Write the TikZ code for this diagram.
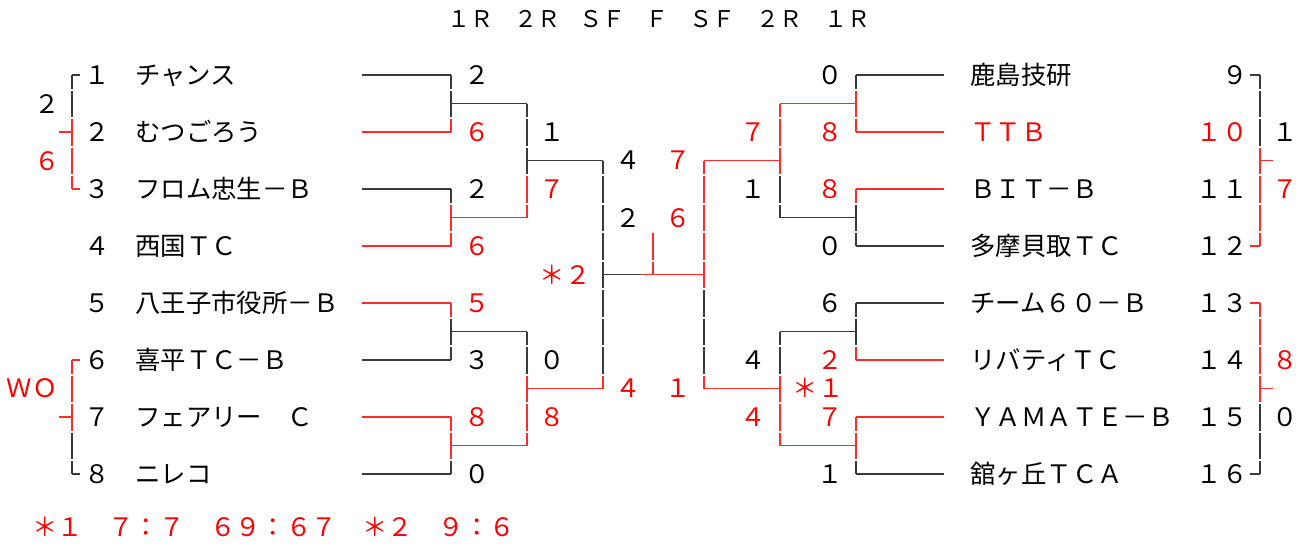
\documentclass[tikz,border=0pt]{standalone}
\usepackage{fontspec}
\usepackage{tikz}
\newfontfamily\jpfont{Noto Sans CJK JP}
\definecolor{tred}{HTML}{FF0000}
\definecolor{tline}{HTML}{3A3A3A}
\definecolor{tredline}{HTML}{FF2A2A}
\tikzset{
  lose/.style={draw=tline, line width=0.6pt},
  win/.style={draw=tredline, line width=0.6pt},
  cellc/.style={dash pattern=on 13.25pt off 1pt, dash phase=6.5pt},
  cellb/.style={dash pattern=on 13.25pt off 1pt, dash phase=13.75pt},
  lbl/.style={font=\jpfont\fontsize{12.7}{14}\selectfont, inner sep=0pt,
              text height=11.2pt, text depth=1.5pt},
  head/.style={lbl, font=\jpfont\fontsize{11.5}{13}\selectfont},
  team/.style={lbl, anchor=west},
  teamr/.style={team, text=tred},
  sc/.style={lbl},
  scr/.style={lbl, text=tred},
}

\begin{document}
\begin{tikzpicture}[x=0.5pt, y=-0.5pt]
  \useasboundingbox (0,0) rectangle (1303,546);

  % Runden oben
  \node[head] (h1) at (470,18) {１Ｒ};
  \node[head] (h2) at (537,18) {２Ｒ};
  \node[head] (h3) at (602,18) {ＳＦ};
  \node[head] (h4) at (657,18) {Ｆ};
  \node[head] (h5) at (712,18) {ＳＦ};
  \node[head] (h6) at (779,18) {２Ｒ};
  \node[head] (h7) at (847,18) {１Ｒ};

  % linke Teams
  \node[sc] (n1) at (97,75) {１};   \node[team] (t1) at (135,75) {チャンス};
  \node[sc] (n2) at (97,132) {２};  \node[team] (t2) at (135,132) {むつごろう};
  \node[sc] (n3) at (97,189) {３};  \node[team] (t3) at (135,189) {フロム忠生－Ｂ};
  \node[sc] (n4) at (97,246) {４};  \node[team] (t4) at (135,246) {西国ＴＣ};
  \node[sc] (n5) at (97,303) {５};  \node[team] (t5) at (135,303) {八王子市役所－Ｂ};
  \node[sc] (n6) at (97,360) {６};  \node[team] (t6) at (135,360) {喜平ＴＣ－Ｂ};
  \node[sc] (n7) at (97,417) {７};  \node[team] (t7) at (135,417) {フェアリー　Ｃ};
  \node[sc] (n8) at (97,474) {８};  \node[team] (t8) at (135,474) {ニレコ};

  % rechte Teams
  \node[team] (t9) at (970,75) {鹿島技研};        \node[lbl, anchor=east] (n9) at (1248,75) {９};
  \node[teamr] (t10) at (970,132) {ＴＴＢ};        \node[scr, anchor=east] (n10) at (1248,132) {１０};
  \node[team] (t11) at (970,189) {ＢＩＴ－Ｂ};     \node[lbl, anchor=east] (n11) at (1248,189) {１１};
  \node[team] (t12) at (970,246) {多摩貝取ＴＣ};    \node[lbl, anchor=east] (n12) at (1248,246) {１２};
  \node[team] (t13) at (970,303) {チーム６０－Ｂ};  \node[lbl, anchor=east] (n13) at (1248,303) {１３};
  \node[team] (t14) at (970,360) {リバティＴＣ};    \node[lbl, anchor=east] (n14) at (1248,360) {１４};
  \node[team] (t15) at (970,417) {ＹＡＭＡＴＥ－Ｂ}; \node[lbl, anchor=east] (n15) at (1248,417) {１５};
  \node[team] (t16) at (970,474) {舘ヶ丘ＴＣＡ};    \node[lbl, anchor=east] (n16) at (1248,474) {１６};

  % Vorrunde links
  \draw[lose] (80,75) -- (72,75);
  \draw[lose, cellc] (72,75) -- (72,118);
  \draw[win, cellb] (72,118) -- (72,189);
  \draw[win] (72,189) -- (80,189);
  \draw[win] (59,132) -- (72,132);
  \node[sc] (p1) at (47,104) {２};
  \node[scr] (p2) at (47,161) {６};
  \draw[win] (80,360) -- (72,360);
  \draw[win, cellc] (72,360) -- (72,431.5);
  \draw[lose, cellb] (72,431.5) -- (72,474);
  \draw[lose] (72,474) -- (80,474);
  \draw[win] (59,417) -- (72,417);
  \node[scr] (wo) at (32,388) {ＷＯ};

  % Vorrunde rechts
  \draw[lose] (1250,75) -- (1260,75);
  \draw[lose, cellc] (1260,75) -- (1260,146.5);
  \draw[win, cellb] (1260,146.5) -- (1260,246);
  \draw[win] (1260,246) -- (1250,246);
  \draw[win] (1260,160.5) -- (1273,160.5);
  \node[sc] (q1) at (1285,132) {１};
  \node[scr] (q2) at (1285,189) {７};
  \draw[win] (1250,303) -- (1260,303);
  \draw[win, cellc] (1260,303) -- (1260,403);
  \draw[lose, cellb] (1260,403) -- (1260,474);
  \draw[lose] (1260,474) -- (1250,474);
  \draw[win] (1260,388.5) -- (1273,388.5);
  \node[scr] (q3) at (1285,360) {８};
  \node[sc] (q4) at (1285,417) {０};

  % 1R links
  \draw[lose] (362,75) -- (451,75);
  \draw[win] (362,132) -- (451,132);
  \draw[lose] (362,189) -- (451,189);
  \draw[win] (362,246) -- (451,246);
  \draw[win] (362,303) -- (451,303);
  \draw[lose] (362,360) -- (451,360);
  \draw[win] (362,417) -- (451,417);
  \draw[lose] (362,474) -- (451,474);
  \draw[lose, cellc] (451,75) -- (451,118);
  \draw[win, cellb] (451,118) -- (451,132);
  \draw[lose, cellc] (451,189) -- (451,203.5);
  \draw[win, cellb] (451,203.5) -- (451,246);
  \draw[win, cellc] (451,303) -- (451,317.5);
  \draw[lose, cellb] (451,317.5) -- (451,360);
  \draw[win, cellc] (451,417) -- (451,460);
  \draw[lose, cellb] (451,460) -- (451,474);
  \node[sc] (a1) at (477,75) {２};
  \node[scr] (a2) at (477,132) {６};
  \node[sc] (a3) at (477,189) {２};
  \node[scr] (a4) at (477,246) {６};
  \node[scr] (a5) at (477,303) {５};
  \node[sc] (a6) at (477,360) {３};
  \node[scr] (a7) at (477,417) {８};
  \node[sc] (a8) at (477,474) {０};

  % 2R links
  \draw[lose] (451,103.5) -- (527,103.5);
  \draw[win] (451,217.5) -- (527,217.5);
  \draw[lose] (451,331.5) -- (527,331.5);
  \draw[win] (451,445.5) -- (527,445.5);
  \draw[lose, cellc] (527,103.5) -- (527,175);
  \draw[win, cellb] (527,175) -- (527,217.5);
  \draw[lose, cellc] (527,331.5) -- (527,374.5);
  \draw[win, cellb] (527,374.5) -- (527,445.5);
  \node[sc] (b1) at (552,132) {１};
  \node[scr] (b2) at (552,189) {７};
  \node[sc] (b3) at (552,360) {０};
  \node[scr] (b4) at (552,417) {８};

  % SF und Finale
  \draw[lose] (527,160.5) -- (603,160.5);
  \draw[win] (527,388.5) -- (603,388.5);
  \draw[lose, cellc] (603,160.5) -- (603,374.5);
  \draw[win, cellb] (603,374.5) -- (603,388.5);
  \draw[lose] (603,274.5) -- (641,274.5);
  \draw[win] (641,274.5) -- (704,274.5);
  \draw[win, cellb] (653,232) -- (653,274.5);
  \draw[win, cellc] (704,160.5) -- (704,289);
  \draw[lose, cellb] (704,289) -- (704,374.5);
  \draw[win, cellb] (704,374.5) -- (704,388.5);
  \draw[win] (704,160.5) -- (780,160.5);
  \draw[win] (704,388.5) -- (780,388.5);
  \node[sc] (c1) at (628,160) {４};
  \node[scr] (c2) at (678,160) {７};
  \node[sc] (c3) at (628,218) {２};
  \node[scr] (c4) at (678,218) {６};
  \node[scr] (c5) at (628,388) {４};
  \node[scr] (c6) at (678,388) {１};
  \node[scr] (star2) at (565,275) {＊２};

  % 2R rechts
  \draw[win, cellc] (780,103.5) -- (780,175);
  \draw[lose, cellb] (780,175) -- (780,217.5);
  \draw[lose, cellc] (780,331.5) -- (780,374.5);
  \draw[win, cellb] (780,374.5) -- (780,445.5);
  \draw[win] (780,103.5) -- (856,103.5);
  \draw[lose] (780,217.5) -- (856,217.5);
  \draw[lose] (780,331.5) -- (856,331.5);
  \draw[win] (780,445.5) -- (856,445.5);
  \node[scr] (d1) at (753,132) {７};
  \node[sc] (d2) at (753,189) {１};
  \node[sc] (d3) at (753,360) {４};
  \node[scr] (d4) at (753,417) {４};
  \node[scr] (star1) at (818,388) {＊１};

  % 1R rechts
  \draw[lose, cellc] (856,75) -- (856,89.5);
  \draw[win, cellb] (856,89.5) -- (856,132);
  \draw[win, cellc] (856,189) -- (856,203.5);
  \draw[lose, cellb] (856,203.5) -- (856,246);
  \draw[lose, cellc] (856,303) -- (856,346);
  \draw[win, cellb] (856,346) -- (856,360);
  \draw[win, cellc] (856,417) -- (856,460);
  \draw[lose, cellb] (856,460) -- (856,474);
  \draw[lose] (856,75) -- (944,75);
  \draw[win] (856,132) -- (944,132);
  \draw[win] (856,189) -- (944,189);
  \draw[lose] (856,246) -- (944,246);
  \draw[lose] (856,303) -- (944,303);
  \draw[win] (856,360) -- (944,360);
  \draw[win] (856,417) -- (944,417);
  \draw[lose] (856,474) -- (944,474);
  \node[sc] (e1) at (830,75) {０};
  \node[scr] (e2) at (830,132) {８};
  \node[scr] (e3) at (830,189) {８};
  \node[sc] (e4) at (830,246) {０};
  \node[sc] (e5) at (830,303) {６};
  \node[scr] (e6) at (830,360) {２};
  \node[scr] (e7) at (830,417) {７};
  \node[sc] (e8) at (830,474) {１};

  % Fussnote
  \node[scr, anchor=west] (note) at (32,527) {＊１　７：７　６９：６７　＊２　９：６};
\end{tikzpicture}
\end{document}
